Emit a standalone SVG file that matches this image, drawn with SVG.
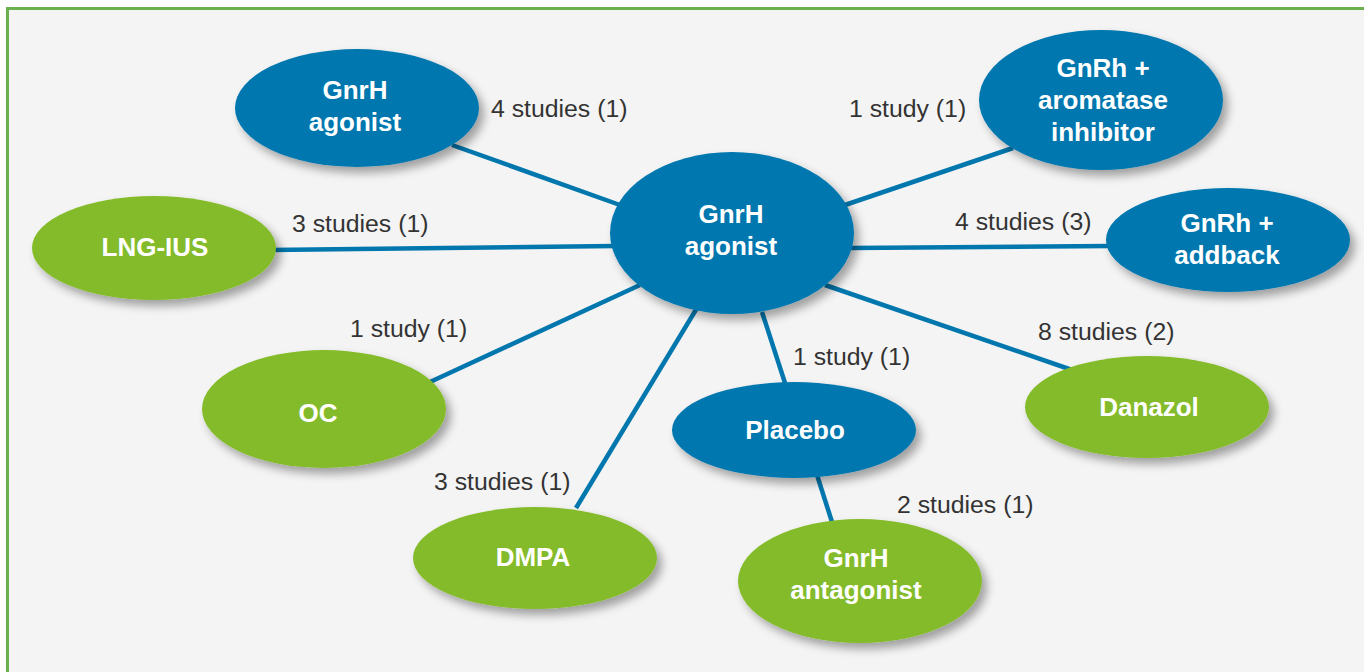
<svg xmlns="http://www.w3.org/2000/svg" width="1364" height="672" viewBox="0 0 1364 672">
<defs>
<filter id="sh" x="-20%" y="-20%" width="150%" height="160%">
<feGaussianBlur in="SourceAlpha" stdDeviation="5"/>
<feOffset dx="5" dy="6" result="b"/>
<feComponentTransfer><feFuncA type="linear" slope="0.35"/></feComponentTransfer>
<feMerge><feMergeNode/><feMergeNode in="SourceGraphic"/></feMerge>
</filter>
<style>
.blue{fill:#0277ae;filter:url(#sh)}
.green{fill:#84bb29;filter:url(#sh)}
.nt{font-family:"Liberation Sans",Arial,sans-serif;font-weight:bold;font-size:26px;fill:#ffffff;text-anchor:middle}
.lb{font-family:"Liberation Sans",Arial,sans-serif;font-size:24.8px;fill:#333333}
.cn line{stroke:#0277ae;stroke-width:4.5;fill:none}
</style>
</defs>
<rect x="0" y="0" width="1364" height="672" fill="#ffffff"/>
<rect x="7.5" y="8.5" width="1400" height="700" fill="#f4f4f4" stroke="#6ab04c" stroke-width="3"/>
<g id="connectors" class="cn">
<line x1="452" y1="145" x2="620" y2="205"/>
<line x1="270" y1="250" x2="615" y2="246"/>
<line x1="430" y1="382" x2="640" y2="285"/>
<line x1="576" y1="508" x2="697" y2="308"/>
<line x1="785" y1="383" x2="762" y2="312"/>
<line x1="825" y1="285" x2="1072" y2="370"/>
<line x1="850" y1="248" x2="1110" y2="246"/>
<line x1="845" y1="205" x2="1013" y2="148"/>
<line x1="817" y1="475" x2="832" y2="522"/>
</g>
<g id="labels">
<text class="lb" x="491" y="117">4 studies (1)</text>
<text class="lb" x="849" y="117">1 study (1)</text>
<text class="lb" x="292" y="232">3 studies (1)</text>
<text class="lb" x="955" y="230">4 studies (3)</text>
<text class="lb" x="350" y="337">1 study (1)</text>
<text class="lb" x="1038" y="340">8 studies (2)</text>
<text class="lb" x="793" y="365">1 study (1)</text>
<text class="lb" x="434" y="490">3 studies (1)</text>
<text class="lb" x="897" y="513">2 studies (1)</text>
</g>
<g id="center">
<ellipse class="blue" cx="732" cy="233" rx="122" ry="81"/>
<text class="nt" x="731" y="223">GnrH</text>
<text class="nt" x="731" y="255">agonist</text>
</g>
<g id="gnrh-agonist">
<ellipse class="blue" cx="357" cy="108" rx="122" ry="59"/>
<text class="nt" x="355" y="99">GnrH</text>
<text class="nt" x="355" y="131">agonist</text>
</g>
<g id="aromatase">
<ellipse class="blue" cx="1101" cy="100" rx="122" ry="70"/>
<text class="nt" x="1103" y="77">GnRh +</text>
<text class="nt" x="1103" y="109">aromatase</text>
<text class="nt" x="1103" y="141">inhibitor</text>
</g>
<g id="addback">
<ellipse class="blue" cx="1228" cy="240" rx="122" ry="52"/>
<text class="nt" x="1227" y="232">GnRh +</text>
<text class="nt" x="1227" y="264">addback</text>
</g>
<g id="lng-ius">
<ellipse class="green" cx="154" cy="248" rx="122" ry="52"/>
<text class="nt" x="155" y="256">LNG-IUS</text>
</g>
<g id="oc">
<ellipse class="green" cx="324" cy="409" rx="122" ry="59"/>
<text class="nt" x="318" y="422">OC</text>
</g>
<g id="danazol">
<ellipse class="green" cx="1147" cy="407" rx="122" ry="51"/>
<text class="nt" x="1149" y="416">Danazol</text>
</g>
<g id="placebo">
<ellipse class="blue" cx="794" cy="430" rx="122" ry="48"/>
<text class="nt" x="795" y="439">Placebo</text>
</g>
<g id="dmpa">
<ellipse class="green" cx="535" cy="558" rx="122" ry="51"/>
<text class="nt" x="533" y="566">DMPA</text>
</g>
<g id="gnrh-antagonist">
<ellipse class="green" cx="860" cy="581" rx="122" ry="62"/>
<text class="nt" x="856" y="567">GnrH</text>
<text class="nt" x="856" y="599">antagonist</text>
</g>
</svg>
